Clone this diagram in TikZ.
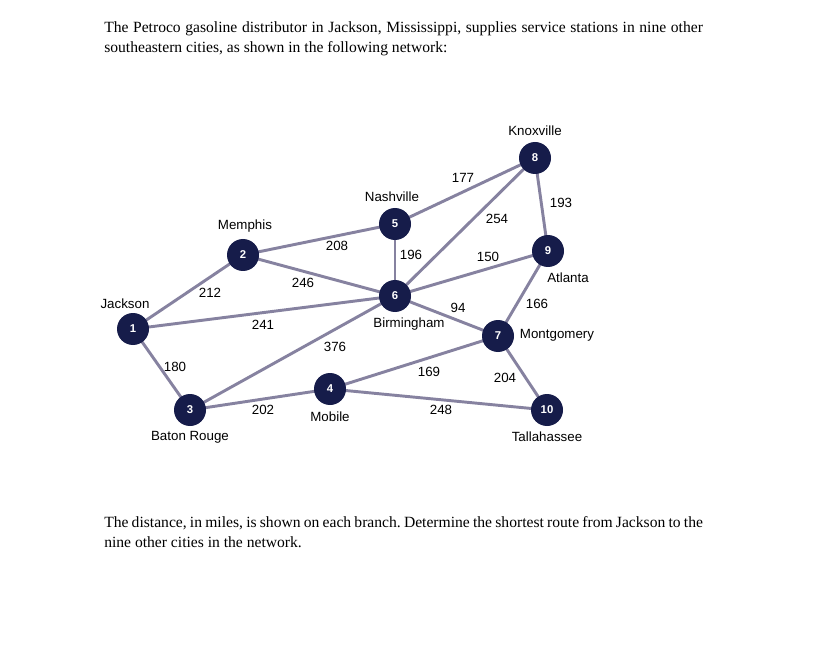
\documentclass[tikz,border=0pt]{standalone}
\usepackage{fontspec}
\setmainfont{Liberation Serif}
\setsansfont{Liberation Sans}
\usepackage{tikz}
\usetikzlibrary{positioning, backgrounds}
\definecolor{navy}{RGB}{22,28,74}
\definecolor{branch}{RGB}{134,130,160}
\frenchspacing
\newcommand{\fullline}[1]{\makebox[449pt][s]{#1}}

\begin{document}
\begin{tikzpicture}[
    x=0.75pt, y=-0.75pt,
    city/.style={circle, fill=navy, text=white, minimum size=24pt, inner sep=0pt, font=\sffamily\bfseries\fontsize{8.5}{10}\selectfont},
    cityname/.style={font=\sffamily\fontsize{10}{12}\selectfont, inner sep=1pt},
    dist/.style={font=\sffamily\fontsize{10}{12}\selectfont, inner sep=1pt},
    road/.style={draw=branch, line width=2.2pt},
    para/.style={anchor=north west, align=left, inner sep=0pt, font=\fontsize{11.7}{15}\selectfont},
]
\useasboundingbox (0,0) rectangle (817,645);

% Problem text
\node[para] (intro) at (104,21) {\fullline{The Petroco gasoline distributor in Jackson, Mississippi, supplies service stations in nine other}\\southeastern cities, as shown in the following network:};
\node[para] (task) at (104,516) {\fullline{The distance, in miles, is shown on each branch. Determine the shortest route from Jackson to the}\\nine other cities in the network.};

% Cities
\node[city] (n1) at (133,329) {1};
\node[city] (n2) at (243,255) {2};
\node[city] (n3) at (190,410) {3};
\node[city] (n4) at (330,389) {4};
\node[city] (n5) at (395,224) {5};
\node[city] (n6) at (395,296) {6};
\node[city] (n7) at (498,336) {7};
\node[city] (n8) at (535,158) {8};
\node[city] (n9) at (548,251) {9};
\node[city] (n10) at (547,410) {10};

% City names
\node[cityname] (jackson) at (125,304) {Jackson};
\node[cityname] (memphis) at (245,226) {Memphis};
\node[cityname] (nashville) at (392,197) {Nashville};
\node[cityname] (knoxville) at (535,131) {Knoxville};
\node[cityname] (atlanta) at (568,278) {Atlanta};
\node[cityname] (birmingham) at (409,324) {Birmingham};
\node[cityname] (montgomery) at (557,335) {Montgomery};
\node[cityname] (mobile) at (330,417) {Mobile};
\node[cityname] (batonrouge) at (190,437) {Baton Rouge};
\node[cityname] (tallahassee) at (547,437) {Tallahassee};

% Branches
\begin{scope}[on background layer]
\foreach \a/\b in {1/2, 1/6, 1/3, 2/5, 2/6, 3/6, 3/4, 4/7, 4/10, 5/6, 5/8, 6/8, 6/9, 6/7, 8/9, 9/7, 7/10}
    \draw[road] (n\a.center) -- (n\b.center);
\end{scope}

% Distances
\node[dist] (w12) at (210,293) {212};
\node[dist] (w16) at (263,325) {241};
\node[dist] (w13) at (175,367) {180};
\node[dist] (w25) at (337,246) {208};
\node[dist] (w26) at (303,283) {246};
\node[dist] (w56) at (411,255) {196};
\node[dist] (w58) at (463,178) {177};
\node[dist] (w68) at (497,219) {254};
\node[dist] (w69) at (488,257) {150};
\node[dist] (w89) at (561,203) {193};
\node[dist] (w67) at (458,308) {94};
\node[dist] (w97) at (537,304) {166};
\node[dist] (w36) at (335,347) {376};
\node[dist] (w47) at (429,372) {169};
\node[dist] (w710) at (505,378) {204};
\node[dist] (w34) at (263,410) {202};
\node[dist] (w410) at (441,410) {248};
\end{tikzpicture}
\end{document}
